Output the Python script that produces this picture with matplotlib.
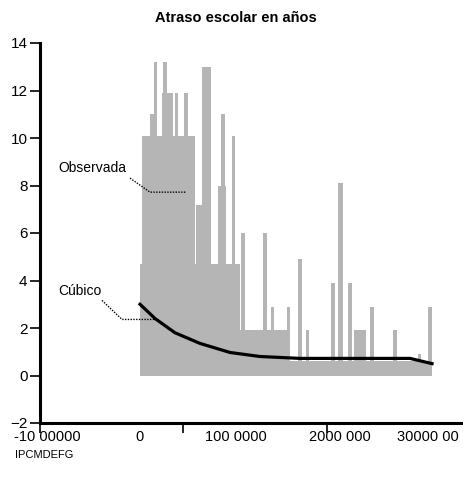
import matplotlib
matplotlib.use("Agg")
import matplotlib.pyplot as plt
from matplotlib.ticker import FixedLocator

plt.rcParams['font.family'] = ['Liberation Sans', 'DejaVu Sans']

# Datos observados (barras grises): inicio, fin y altura
obs_ini = [0, 21000, 105000, 147000, 232000, 242000, 368000, 463000, 589000,
           653000, 821000, 853000, 968000, 1053000, 1063000, 1295000, 1379000,
           1547000, 1663000, 1747000, 2011000, 2084000, 2189000, 2253000,
           2421000, 2663000, 2926000, 3032000, 1263000]
obs_fin = [1052600, 579000, 147000, 179000, 347000, 284000, 400000, 505000, 663000,
           747000, 905000, 895000, 1000000, 1579000, 1105000, 1337000, 1411000,
           1579000, 1705000, 1779000, 2053000, 2137000, 2232000, 2379000,
           2463000, 2705000, 2958000, 3074000, 3074000]
obs_alto = [4.7, 10.1, 11.0, 13.2, 11.9, 13.2, 11.9, 11.9, 7.2,
            13.0, 8.0, 11.0, 10.1, 1.9, 6.0, 6.0, 2.9,
            2.9, 4.9, 1.9, 3.9, 8.1, 3.9, 1.9,
            2.9, 1.9, 0.9, 2.9, 0.6]

# Ajuste cubico (linea negra)
cub_x = [0, 158000, 368000, 632000, 947000, 1263000, 1684000, 2211000, 2842000, 3074000]
cub_y = [3.0, 2.4, 1.8, 1.35, 0.97, 0.8, 0.72, 0.72, 0.72, 0.5]

# Etiquetas del eje x tal como aparecen
xlab_pos = [-979000, -10500, 1010000, 2105000, 3030000]
xlab_txt = ["-10 00000", "0", "100 0000", "2000 000", "30000 00"]
xmarcas = [-1052600, 452600, 1968000]
yticks = [-2, 0, 2, 4, 6, 8, 10, 12, 14]

fig = plt.figure(figsize=(4.63, 4.88), dpi=100)
ax = fig.add_axes([40 / 463, 65 / 488, 423 / 463, 380 / 488])

anchos = [f - i for i, f in zip(obs_ini, obs_fin)]
ax.bar(obs_ini, obs_alto, width=anchos, align='edge', color='#b5b5b5',
       edgecolor='none', zorder=1)
ax.plot(cub_x, cub_y, color='black', lw=2.3, zorder=3)

ax.set_xlim(-1052600, 3400000)
ax.set_ylim(-2, 14)

for s in ['top', 'right']:
    ax.spines[s].set_visible(False)
for s in ['left', 'bottom']:
    ax.spines[s].set_linewidth(2.2)

ax.set_yticks(yticks)
ax.tick_params(axis='y', direction='out', length=7, width=1.2, labelsize=11, pad=2)
ax.xaxis.set_major_locator(FixedLocator(xlab_pos))
ax.set_xticklabels(xlab_txt)
ax.xaxis.set_minor_locator(FixedLocator(xmarcas))
ax.tick_params(axis='x', which='major', length=0, labelsize=10.5, pad=5)
ax.tick_params(axis='x', which='minor', direction='out', length=7, width=1.2)

# Anotaciones
ax.text(-860000, 8.73, "Observada", fontsize=10, va='center', ha='left')
ax.plot([-105000, 105000, 484000], [8.31, 7.72, 7.72], color='black', lw=1,
        ls=(0, (1, 1)), zorder=4)
ax.text(-860000, 3.54, "Cúbico", fontsize=10, va='center', ha='left')
ax.plot([-400000, -189000, 179000], [3.16, 2.36, 2.36], color='black', lw=1,
        ls=(0, (1, 1)), zorder=4)

fig.text(236 / 463, 1 - 18 / 488, "Atraso escolar en años", ha='center', va='center',
         fontsize=10.5, fontweight='bold')
fig.text(15 / 463, 1 - 455 / 488, "IPCMDEFG", ha='left', va='center', fontsize=8)

fig.savefig("out.png", dpi=100)
